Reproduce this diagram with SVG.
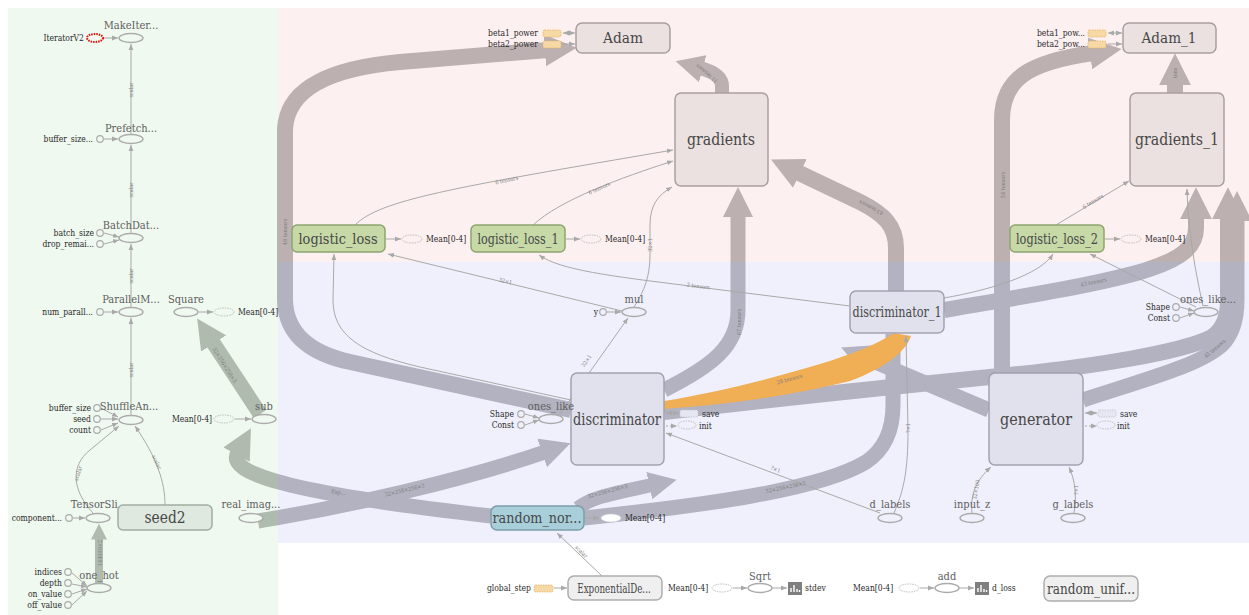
<svg xmlns="http://www.w3.org/2000/svg" xmlns:xlink="http://www.w3.org/1999/xlink" width="1249" height="615" viewBox="0 0 1249 615">
<style>
.t{font-family:"DejaVu Serif","Liberation Serif",serif;font-stretch:condensed}
.lbl{font-size:11px;fill:#5e5e5e;text-anchor:middle}
.big{text-anchor:middle;fill:#474747}
.sm{font-size:8.5px;fill:#2a2a2a}
.end{text-anchor:end}
.el{font-size:5.5px;fill:#7c7c7c;text-anchor:middle}
.op{stroke:#ababab;stroke-width:1.4}
.cst{stroke:#ababab;stroke-width:1.2}
.fg{fill:#f0f9f0}.fp{fill:#fdf0f0}.fb{fill:#f0f0fd}.fw{fill:#ffffff}
.thin{fill:none;stroke:#a9a9a9;stroke-width:1;marker-end:url(#ah)}
.both{marker-start:url(#ahs)}
.dash{stroke-dasharray:2 2}
.dot{stroke:#bdbdbd;stroke-width:1;stroke-dasharray:1.5 1}
.mp{fill:#ece1e1;stroke:#aa9f9f;stroke-width:1.5}
.mb{fill:#e1e1ee;stroke:#a1a1b0;stroke-width:1.5}
.mg{fill:#e0e9e0;stroke:#a0ada0;stroke-width:1.5}
.mw{fill:#efefef;stroke:#adadad;stroke-width:1.5}
.ml{fill:#c6d9a7;stroke:#8ea56f;stroke-width:1.5}
.orng{fill:#f6d9a5;stroke:#e2b56a;stroke-width:0.8;stroke-dasharray:1.5 1}
.band{fill:none}
</style>
<defs>
<marker id="ah" viewBox="0 0 10 10" refX="10" refY="5" markerWidth="6" markerHeight="6" markerUnits="userSpaceOnUse" orient="auto"><path d="M0,1 L10,5 L0,9 z" fill="#a9a9a9"/></marker>
<marker id="ahs" viewBox="0 0 10 10" refX="10" refY="5" markerWidth="6" markerHeight="6" markerUnits="userSpaceOnUse" orient="auto-start-reverse"><path d="M0,1 L10,5 L0,9 z" fill="#a9a9a9"/></marker>
<marker id="hp" viewBox="0 0 10 10" refX="1" refY="5" markerWidth="2" markerHeight="2" orient="auto"><path d="M0,0 L10,5 L0,10 z" fill="#bcb0b0"/></marker>
<marker id="hb" viewBox="0 0 10 10" refX="1" refY="5" markerWidth="2" markerHeight="2" orient="auto"><path d="M0,0 L10,5 L0,10 z" fill="#b2b2c0"/></marker>
<marker id="hg" viewBox="0 0 10 10" refX="1" refY="5" markerWidth="2" markerHeight="2" orient="auto"><path d="M0,0 L10,5 L0,10 z" fill="#aebbae"/></marker>
<clipPath id="cg"><rect x="0" y="0" width="278" height="615"/></clipPath>
<clipPath id="cp"><rect x="278" y="0" width="971" height="262"/></clipPath>
<clipPath id="cb"><rect x="278" y="262" width="971" height="353"/></clipPath>
<g id="bands" class="band">
<path d="M571,410 L350,362 Q286,348 285,300 L285,130 Q287,72 400,62 L548,50" stroke-width="16" marker-end="url(#hp)"/>
<path d="M1002,373 L1002,120 C1002,78 1030,62 1093,53" stroke-width="16" marker-end="url(#hp)"/>
<path d="M491,516 C420,508 340,497 290,485 C242,473 232,463 238,452" stroke-width="15" marker-end="url(#hg)"/>
<path d="M258,521 C350,506 460,481 545,452" stroke-width="15" marker-end="url(#hb)"/>
<path d="M584,518 C700,506 820,490 866,462 Q893,444 893,405 L893,334" stroke-width="15"/>
<path d="M578,508 C592,497 615,493 652,485" stroke-width="14" marker-end="url(#hb)"/>
<path d="M989,410 L866,358" stroke-width="15" marker-end="url(#hb)"/>
<path d="M664,390 C712,366 738,346 738,310 L738,214" stroke-width="15" marker-end="url(#hp)"/>
<path d="M664,412 C800,396 930,383 1000,376 C1100,366 1180,352 1210,338 Q1228,328 1228,300 L1228,216" stroke-width="16" marker-end="url(#hp)"/>
<path d="M1083,400 C1150,378 1200,365 1222,345 Q1237,330 1237,300 L1237,218" stroke-width="15" marker-end="url(#hp)"/>
<path d="M944,310 C1020,297 1090,286 1140,272 C1180,260 1196,248 1196,228 L1196,216" stroke-width="16" marker-end="url(#hp)"/>
<path d="M896,291 L896,248 C896,226 884,214 860,202 L797,172" stroke-width="16" marker-end="url(#hp)"/>
<path d="M722,93 L722,86 Q722,74 700,68" stroke-width="14" marker-end="url(#hp)"/>
<path d="M1175,93 L1175,82" stroke-width="16" marker-end="url(#hp)"/>
<path d="M260,414 L212,341" stroke-width="15" marker-end="url(#hg)"/>
<path d="M99,583 L99,538" stroke-width="8" marker-end="url(#hg)"/>
</g>
</defs>

<g id="background">
<rect x="0" y="0" width="1249" height="615" fill="#ffffff"/>
<rect x="8" y="8" width="270" height="607" fill="#f0f9f0"/>
<rect x="278" y="8" width="971" height="254" fill="#fdf0f0"/>
<rect x="278" y="262" width="971" height="281" fill="#f0f0fd"/>
</g>

<g id="connectors">
<use xlink:href="#bands" href="#bands" stroke="#aebbae" clip-path="url(#cg)"/>
<use xlink:href="#bands" href="#bands" stroke="#bcb0b0" clip-path="url(#cp)"/>
<use xlink:href="#bands" href="#bands" stroke="#b2b2c0" clip-path="url(#cb)"/>
<path d="M664,401 C720,392 800,372 850,354 C874,345 887,338 893,333 L911,336 C905,354 880,370 850,381 C780,398 720,405 664,409 Z" fill="#f0ae55"/>
<!-- thin edges left -->
<path class="thin" d="M104,38 H118"/>
<path class="thin" d="M131,134 V44"/>
<path class="thin" d="M104,139 H118"/>
<path class="thin" d="M131,234 V145"/>
<path class="thin" d="M104,233 L119,237"/>
<path class="thin" d="M104,244 L119,240"/>
<path class="thin" d="M131,307 V244"/>
<path class="thin" d="M104,312 H118"/>
<path class="thin" d="M131,415 V318"/>
<path class="thin" d="M101,408 L118,417"/>
<path class="thin" d="M101,419 H118"/>
<path class="thin" d="M101,430 L118,423"/>
<path class="thin" d="M93,513 C72,490 70,466 90,450 L119,426"/>
<path class="thin" d="M165,505 C165,482 157,458 135,426"/>
<path class="thin" d="M73,518 H85"/>
<path class="thin" d="M72,573 L87,586"/>
<path class="thin" d="M72,584 L87,587"/>
<path class="thin" d="M72,594 L87,589"/>
<path class="thin" d="M72,605 L87,591"/>
<path class="thin" d="M199,312 H213"/>
<path class="thin" d="M235,419 H251"/>
<!-- thin edges center -->
<path class="thin both" d="M563,33 H575"/>
<path class="thin" d="M563,44 H575"/>
<path class="thin both" d="M1108,33 H1122"/>
<path class="thin" d="M1108,44 H1122"/>
<path class="thin" d="M386,239 H401"/>
<path class="thin" d="M566,239 H580"/>
<path class="thin" d="M1105,239 H1120"/>
<path class="thin" d="M607,312 H621"/>
<path class="thin" d="M525,414 L539,418"/>
<path class="thin" d="M525,425 L539,420"/>
<path class="thin both" d="M666,413 H679"/>
<path class="thin dash" d="M666,426 H677"/>
<path class="thin both" d="M1085,413 H1097"/>
<path class="thin dash" d="M1085,426 H1097"/>
<path class="thin" d="M1180,307 L1194,311"/>
<path class="thin" d="M1180,318 L1194,313"/>
<path class="thin" d="M585,518 H599"/>
<path class="thin" d="M602,576 L557,533"/>
<path class="thin" d="M554,588 H567"/>
<path class="thin" d="M733,588 H747"/>
<path class="thin" d="M772,588 H787"/>
<path class="thin" d="M920,588 H934"/>
<path class="thin" d="M959,588 H974"/>
<path class="thin" d="M571,400 L420,367 C360,353 333,335 333,300 L334,254"/>
<path class="thin" d="M622,311 L388,254"/>
<path class="thin" d="M850,306 L690,286 C610,276 560,270 539,255"/>
<path class="thin" d="M634,307 C645,290 650,275 650,255 L650,225 C650,205 658,195 672,187"/>
<path class="thin" d="M560,414 L628,318"/>
<path class="thin" d="M880,513 L666,433"/>
<path class="thin" d="M894,513 C904,490 908,470 908,430 L906,336"/>
<path class="thin" d="M972,513 C970,495 976,480 991,467"/>
<path class="thin" d="M1074,513 C1077,495 1075,480 1069,467"/>
<path class="thin" d="M355,225 C380,200 450,188 673,150"/>
<path class="thin" d="M533,225 C560,200 620,178 673,161"/>
<path class="thin" d="M1056,225 L1129,181"/>
<path class="thin" d="M944,298 C990,290 1040,275 1053,254"/>
<path class="thin" d="M1196,307 L1090,254"/>
<path class="thin" d="M1203,306 C1195,270 1188,230 1187,189"/>
<!-- edge labels -->
<g class="t el">
<text transform="translate(133,90) rotate(-90)">scalar</text>
<text transform="translate(133,190) rotate(-90)">scalar</text>
<text transform="translate(133,276) rotate(-90)">scalar</text>
<text transform="translate(133,370) rotate(-90)">scalar</text>
<text transform="translate(80,474) rotate(-72)">scalar</text>
<text transform="translate(155,463) rotate(64)">scalar</text>
<text transform="translate(102,553) rotate(-90)">144000×2</text>
<text transform="translate(223,366) rotate(58)">32×256×256×3</text>
<text transform="translate(338,494) rotate(8)">Exp...</text>
<text transform="translate(405,492) rotate(-13)">32×256×256×3</text>
<text transform="translate(608,493) rotate(-15)">32×256×256×3</text>
<text transform="translate(786,489) rotate(-12)">32×256×256×3</text>
<text transform="translate(287,232) rotate(-90)">48 tensors</text>
<text transform="translate(1005,185) rotate(-90)">54 tensors</text>
<text transform="translate(741,322) rotate(-90)">67 tensors</text>
<text transform="translate(790,381) rotate(-15)">28 tensors</text>
<text transform="translate(872,206) rotate(208)">43 tensors</text>
<text transform="translate(708,72) rotate(220)">11 tensors</text>
<text transform="translate(1094,284) rotate(-12)">43 tensors</text>
<text transform="translate(1216,350) rotate(-40)">45 tensors</text>
<text transform="translate(1177,73) rotate(-90)">tens</text>
<text transform="translate(507,182) rotate(-12)">6 tensors</text>
<text transform="translate(600,190) rotate(-24)">6 tensors</text>
<text transform="translate(1094,203) rotate(-31)">6 tensors</text>
<text transform="translate(652,245) rotate(-90)">32×1</text>
<text transform="translate(505,283) rotate(13)">32×1</text>
<text transform="translate(588,362) rotate(-55)">32×1</text>
<text transform="translate(698,288) rotate(7)">2 tensors</text>
<text transform="translate(775,471) rotate(20)">?×1</text>
<text transform="translate(910,428) rotate(-90)">?×1</text>
<text transform="translate(978,490) rotate(-80)">32×100</text>
<text transform="translate(1078,490) rotate(-90)">?×1</text>
<text transform="translate(580,553) rotate(45)">scalar</text>
</g>
</g>

<!-- left panel nodes -->
<g id="MakeIterator"><text class="t lbl" x="131" y="29">MakeIter...</text><ellipse class="op fg" cx="131" cy="38" rx="12" ry="4.5"/></g>
<g id="IteratorV2"><text class="t sm end" x="84" y="41">IteratorV2</text><ellipse cx="95" cy="38" rx="8" ry="4" fill="none" stroke="#e01010" stroke-width="2" stroke-dasharray="1.5 1"/></g>
<g id="Prefetch"><text class="t lbl" x="131" y="132">Prefetch...</text><ellipse class="op fg" cx="131" cy="139" rx="12" ry="4.5"/></g>
<g id="buffer_size_p"><text class="t sm end" x="93" y="142">buffer_size...</text><circle class="cst fg" cx="100" cy="139" r="3.3"/></g>
<g id="BatchDat"><text class="t lbl" x="131" y="229">BatchDat...</text><ellipse class="op fg" cx="131" cy="238" rx="12" ry="4.5"/></g>
<g id="batch_size"><text class="t sm end" x="94" y="236">batch_size</text><circle class="cst fg" cx="100" cy="233" r="3.3"/></g>
<g id="drop_remainder"><text class="t sm end" x="94" y="247">drop_remai...</text><circle class="cst fg" cx="100" cy="244" r="3.3"/></g>
<g id="ParallelMap"><text class="t lbl" x="131" y="303">ParallelM...</text><ellipse class="op fg" cx="131" cy="312" rx="12" ry="4.5"/></g>
<g id="num_parallel"><text class="t sm end" x="93" y="315">num_parall...</text><circle class="cst fg" cx="100" cy="312" r="3.3"/></g>
<g id="Square"><text class="t lbl" x="186" y="303">Square</text><ellipse class="op fg" cx="186" cy="312" rx="12" ry="4.5"/></g>
<g id="Square_mean"><ellipse class="dot fg" cx="224" cy="312" rx="10" ry="4"/><text class="t sm" x="238" y="315">Mean[0-4]</text></g>
<g id="ShuffleAndRepeat"><text class="t lbl" x="129" y="410">ShuffleAn...</text><ellipse class="op fg" cx="131" cy="420" rx="12" ry="4.5"/></g>
<g id="buffer_size_s"><text class="t sm end" x="91" y="411">buffer_size</text><circle class="cst fg" cx="97" cy="408" r="3.3"/></g>
<g id="seed"><text class="t sm end" x="91" y="422">seed</text><circle class="cst fg" cx="97" cy="419" r="3.3"/></g>
<g id="count"><text class="t sm end" x="91" y="433">count</text><circle class="cst fg" cx="97" cy="430" r="3.3"/></g>
<g id="sub"><text class="t lbl" x="264" y="410">sub</text><ellipse class="op fg" cx="264" cy="419" rx="12" ry="4.5"/></g>
<g id="sub_mean"><text class="t sm end" x="212" y="422">Mean[0-4]</text><ellipse class="dot fg" cx="224" cy="419" rx="10" ry="4"/></g>
<g id="TensorSlice"><text class="t lbl" x="99" y="508">TensorSli...</text><ellipse class="op fg" cx="98" cy="518" rx="12" ry="4.5"/></g>
<g id="components"><text class="t sm end" x="62" y="521">component...</text><circle class="cst fg" cx="69" cy="518" r="3.3"/></g>
<g id="seed2"><rect class="mg" x="118" y="505" width="94" height="25" rx="5"/><text class="t big" x="165" y="523" font-size="16" textLength="41" lengthAdjust="spacingAndGlyphs">seed2</text></g>
<g id="real_images"><text class="t lbl" x="251" y="508">real_imag...</text><ellipse class="op fg" cx="251" cy="518" rx="12" ry="4.5"/></g>
<g id="one_hot"><text class="t lbl" x="99" y="579">one_hot</text><ellipse class="op fg" cx="99" cy="588" rx="12" ry="4.5"/></g>
<g id="indices"><text class="t sm end" x="62" y="575">indices</text><circle class="cst fg" cx="68" cy="572" r="3.3"/></g>
<g id="depth"><text class="t sm end" x="62" y="586">depth</text><circle class="cst fg" cx="68" cy="583" r="3.3"/></g>
<g id="on_value"><text class="t sm end" x="62" y="597">on_value</text><circle class="cst fg" cx="68" cy="594" r="3.3"/></g>
<g id="off_value"><text class="t sm end" x="62" y="608">off_value</text><circle class="cst fg" cx="68" cy="605" r="3.3"/></g>

<!-- pink panel nodes -->
<g id="beta1_power"><text class="t sm end" x="538" y="36">beta1_power</text><rect class="orng" x="543" y="30" width="18" height="7" rx="1.5"/></g>
<g id="beta2_power"><text class="t sm end" x="538" y="47">beta2_power</text><rect class="orng" x="543" y="41" width="18" height="7" rx="1.5"/></g>
<g id="Adam"><rect class="mp" x="576" y="23" width="94" height="30" rx="6"/><text class="t big" x="623" y="43" font-size="15" textLength="40" lengthAdjust="spacingAndGlyphs">Adam</text></g>
<g id="gradients"><rect class="mp" x="675" y="93" width="93" height="93" rx="6"/><text class="t big" x="721" y="145" font-size="16" textLength="68" lengthAdjust="spacingAndGlyphs">gradients</text></g>
<g id="beta1_power_1"><text class="t sm end" x="1085" y="36">beta1_pow...</text><rect class="orng" x="1088" y="30" width="18" height="7" rx="1.5"/></g>
<g id="beta2_power_1"><text class="t sm end" x="1085" y="47">beta2_pow...</text><rect class="orng" x="1088" y="41" width="18" height="7" rx="1.5"/></g>
<g id="Adam_1"><rect class="mp" x="1123" y="23" width="93" height="30" rx="6"/><text class="t big" x="1169" y="43" font-size="15" textLength="55" lengthAdjust="spacingAndGlyphs">Adam_1</text></g>
<g id="gradients_1"><rect class="mp" x="1130" y="93" width="94" height="93" rx="6"/><text class="t big" x="1177" y="145" font-size="16" textLength="84" lengthAdjust="spacingAndGlyphs">gradients_1</text></g>
<g id="logistic_loss"><rect class="ml" x="292" y="225" width="93" height="27" rx="5"/><text class="t big" x="338" y="244" font-size="14.5" textLength="79" lengthAdjust="spacingAndGlyphs">logistic_loss</text></g>
<g id="logistic_loss_mean"><ellipse class="dot fp" cx="412" cy="239" rx="10" ry="4"/><text class="t sm" x="426" y="242">Mean[0-4]</text></g>
<g id="logistic_loss_1"><rect class="ml" x="471" y="225" width="94" height="27" rx="5"/><text class="t big" x="518" y="244" font-size="14.5" textLength="81" lengthAdjust="spacingAndGlyphs">logistic_loss_1</text></g>
<g id="logistic_loss_1_mean"><ellipse class="dot fp" cx="591" cy="239" rx="10" ry="4"/><text class="t sm" x="605" y="242">Mean[0-4]</text></g>
<g id="logistic_loss_2"><rect class="ml" x="1010" y="225" width="94" height="27" rx="5"/><text class="t big" x="1057" y="244" font-size="14.5" textLength="82" lengthAdjust="spacingAndGlyphs">logistic_loss_2</text></g>
<g id="logistic_loss_2_mean"><ellipse class="dot fp" cx="1131" cy="239" rx="10" ry="4"/><text class="t sm" x="1145" y="242">Mean[0-4]</text></g>

<!-- blue panel nodes -->
<g id="discriminator"><rect class="mb" x="571" y="373" width="93" height="92" rx="6"/><text class="t big" x="617" y="425" font-size="16" textLength="88" lengthAdjust="spacingAndGlyphs">discriminator</text></g>
<g id="disc_save"><rect x="680" y="410" width="18" height="7" rx="1.5" fill="#e6e6f2" stroke="#c4c4cc" stroke-width="0.8" stroke-dasharray="1.5 1"/><text class="t sm" x="702" y="417">save</text></g>
<g id="disc_init"><ellipse class="dot fb" cx="687" cy="425" rx="9" ry="4"/><text class="t sm" x="699" y="429">init</text></g>
<g id="discriminator_1"><rect class="mb" x="850" y="291" width="94" height="42" rx="6"/><text class="t big" x="897" y="317" font-size="15" textLength="89" lengthAdjust="spacingAndGlyphs">discriminator_1</text></g>
<g id="generator"><rect class="mb" x="989" y="373" width="94" height="92" rx="6"/><text class="t big" x="1036" y="425" font-size="16.5" textLength="72" lengthAdjust="spacingAndGlyphs">generator</text></g>
<g id="gen_save"><rect x="1098" y="410" width="18" height="7" rx="1.5" fill="#e6e6f2" stroke="#c4c4cc" stroke-width="0.8" stroke-dasharray="1.5 1"/><text class="t sm" x="1120" y="417">save</text></g>
<g id="gen_init"><ellipse class="dot fb" cx="1106" cy="425" rx="9" ry="4"/><text class="t sm" x="1117" y="429">init</text></g>
<g id="mul"><text class="t lbl" x="634" y="303">mul</text><ellipse class="op fb" cx="634" cy="312" rx="12" ry="4.5"/></g>
<g id="y"><text class="t sm end" x="598" y="315">y</text><circle class="cst fb" cx="603" cy="312" r="3.3"/></g>
<g id="ones_like"><text class="t lbl" x="551" y="410">ones_like</text><ellipse class="op fb" cx="551" cy="419" rx="12" ry="4.5"/></g>
<g id="shape_a"><text class="t sm end" x="514" y="417">Shape</text><circle class="cst fb" cx="521" cy="414" r="3.3"/></g>
<g id="const_a"><text class="t sm end" x="514" y="428">Const</text><circle class="cst fb" cx="521" cy="425" r="3.3"/></g>
<g id="ones_like_1"><text class="t lbl" x="1208" y="303">ones_like...</text><ellipse class="op fb" cx="1206" cy="312" rx="12" ry="4.5"/></g>
<g id="shape_b"><text class="t sm end" x="1170" y="310">Shape</text><circle class="cst fb" cx="1176" cy="307" r="3.3"/></g>
<g id="const_b"><text class="t sm end" x="1170" y="321">Const</text><circle class="cst fb" cx="1176" cy="318" r="3.3"/></g>
<g id="d_labels"><text class="t lbl" x="890" y="508">d_labels</text><ellipse class="op fb" cx="890" cy="518" rx="12" ry="4.5"/></g>
<g id="input_z"><text class="t lbl" x="972" y="508">input_z</text><ellipse class="op fb" cx="972" cy="518" rx="12" ry="4.5"/></g>
<g id="g_labels"><text class="t lbl" x="1073" y="508">g_labels</text><ellipse class="op fb" cx="1073" cy="518" rx="12" ry="4.5"/></g>
<g id="random_normal"><rect x="491" y="506" width="93" height="24" rx="6" fill="#a9cfdb" stroke="#7e9dab" stroke-width="1.5"/><text class="t big" x="537" y="523" font-size="14.5" textLength="89" lengthAdjust="spacingAndGlyphs">random_nor...</text></g>
<g id="random_normal_mean"><ellipse cx="611" cy="518" rx="10" ry="4" fill="#ffffff" stroke="#d0d0d8" stroke-width="1" stroke-dasharray="1.5 1"/><text class="t sm" x="625" y="521">Mean[0-4]</text></g>

<!-- bottom (white) nodes -->
<g id="global_step"><text class="t sm end" x="531" y="591">global_step</text><rect class="orng" x="534" y="585" width="19" height="7" rx="1.5"/></g>
<g id="ExponentialDecay"><rect class="mw" x="568" y="576" width="94" height="24" rx="6"/><text class="t big" font-size="13.5" transform="translate(614,593) scale(0.72,1)">ExponentialDe...</text></g>
<g id="sqrt_mean"><text class="t sm" x="668" y="591">Mean[0-4]</text><ellipse class="dot fw" cx="722" cy="588" rx="10" ry="4"/></g>
<g id="Sqrt"><text class="t lbl" x="760" y="580">Sqrt</text><ellipse class="op fw" cx="760" cy="588" rx="12" ry="4.5"/></g>
<g id="stdev"><rect x="788" y="582" width="14" height="13" fill="#7f7f7f"/><path d="M791,592 V588 M794,592 V585 M797,592 V589 M799.5,592 V590" stroke="#fff" stroke-width="1.4"/><text class="t sm" x="805" y="591">stdev</text></g>
<g id="add_mean"><text class="t sm" x="853" y="591">Mean[0-4]</text><ellipse class="dot fw" cx="909" cy="588" rx="10" ry="4"/></g>
<g id="add"><text class="t lbl" x="947" y="580">add</text><ellipse class="op fw" cx="947" cy="588" rx="12" ry="4.5"/></g>
<g id="d_loss"><rect x="975" y="582" width="14" height="13" fill="#7f7f7f"/><path d="M978,592 V588 M981,592 V585 M984,592 V589 M986.5,592 V590" stroke="#fff" stroke-width="1.4"/><text class="t sm" x="992" y="591">d_loss</text></g>
<g id="random_uniform"><rect class="mw" x="1044" y="576" width="94" height="25" rx="6"/><text class="t big" x="1091" y="594" font-size="14.5" textLength="88" lengthAdjust="spacingAndGlyphs">random_unif...</text></g>
</svg>
